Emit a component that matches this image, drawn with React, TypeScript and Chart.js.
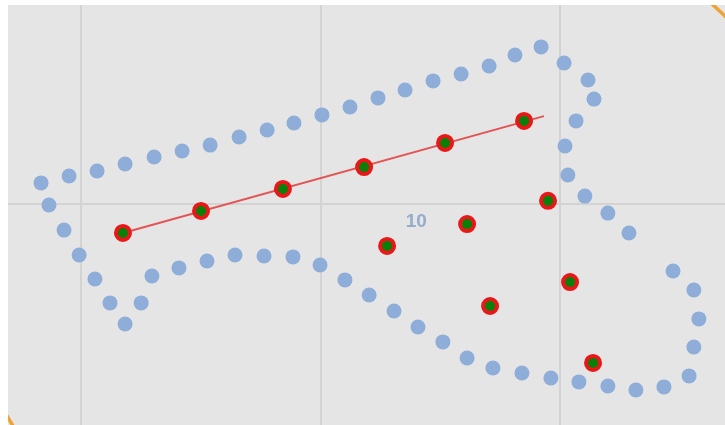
import React, { useEffect, useRef } from "react";
import { Chart, registerables } from "chart.js";

Chart.register(...registerables);

// Grid tick positions (axis units)
const xTicks = [0, 10, 20];
const yTicks = [0];
const xRange = [-3.05, 26.89];
const yRange = [-9.23, 8.31];

// Blue dotted loop
const loopX = [
  -1.67, -0.5, 0.67, 1.84, 3.05, 4.22, 5.39, 6.6, 7.77, 8.89, 10.06, 11.23, 12.4, 13.53, 14.7,
  15.87, 17.04, 18.12, 19.21, 20.17, 21.17, 21.42, 20.67, 20.21, 20.33, 21.04, 22.0, 22.88,
  24.72, 25.59, 25.8, 25.59, 25.39, 24.34, 23.17, 22.0, 20.79, 19.62, 18.41, 17.2, 16.12,
  15.11, 14.07, 13.07, 12.03, 11.02, 9.98, 8.85, 7.64, 6.43, 5.26, 4.09, 2.96, 2.51, 1.84,
  1.21, 0.58, -0.08, -0.71, -1.34,
];
const loopY = [
  0.88, 1.17, 1.38, 1.67, 1.96, 2.21, 2.46, 2.8, 3.09, 3.38, 3.72, 4.05, 4.43, 4.76, 5.14,
  5.43, 5.76, 6.22, 6.56, 5.89, 5.18, 4.38, 3.47, 2.42, 1.21, 0.33, -0.38, -1.21,
  -2.8, -3.59, -4.8, -5.97, -7.18, -7.64, -7.77, -7.6, -7.43, -7.27, -7.06, -6.85, -6.43,
  -5.76, -5.14, -4.47, -3.8, -3.17, -2.55, -2.21, -2.17, -2.13, -2.38, -2.67, -3.01, -4.13, -5.01,
  -4.13, -3.13, -2.13, -1.09, -0.04,
];

// Red / green points
const pointX = [1.75, 5.01, 8.43, 11.82, 15.2, 18.5, 19.5, 16.12, 12.78, 17.08, 20.42, 21.38];
const pointY = [-1.21, -0.29, 0.63, 1.54, 2.55, 3.47, 0.13, -0.84, -1.75, -4.26, -3.26, -6.64];

// Trend line
const lineX = [1.75, 19.33];
const lineY = [-1.21, 3.67];

// Annotation label
const labelText = "10";
const labelX = 14.0;
const labelY = -0.75;

const zip = (xs: number[], ys: number[]) => xs.map((x, i) => ({ x, y: ys[i] }));

const decorPlugin = {
  id: "decor",
  afterDatasetsDraw(chart: any) {
    const { ctx, scales } = chart;
    const w = chart.width;
    const h = chart.height;
    ctx.save();
    ctx.font = 'bold 19px "Liberation Sans", Arial, sans-serif';
    ctx.fillStyle = "#97abcb";
    ctx.textAlign = "center";
    ctx.textBaseline = "middle";
    ctx.fillText(labelText, scales.x.getPixelForValue(labelX), scales.y.getPixelForValue(labelY));
    // orange corner accents
    ctx.strokeStyle = "#eea232";
    ctx.lineWidth = 3.5;
    ctx.lineCap = "round";
    ctx.beginPath();
    ctx.moveTo(w - 13, -1);
    ctx.lineTo(w + 1, 12);
    ctx.stroke();
    ctx.beginPath();
    ctx.moveTo(-1, h - 9);
    ctx.lineTo(5, h + 1);
    ctx.stroke();
    ctx.restore();
  },
};

export default function App() {
  const ref = useRef<HTMLCanvasElement | null>(null);
  useEffect(() => {
    if (!ref.current) return;
    const chart = new Chart(ref.current, {
      type: "scatter",
      data: {
        datasets: [
          {
            data: zip(pointX, pointY),
            pointRadius: 7,
            pointBorderWidth: 4,
            pointBackgroundColor: "#0a7f0a",
            pointBorderColor: "#e81818",
            showLine: false,
          },
          {
            data: zip(lineX, lineY),
            showLine: true,
            pointRadius: 0,
            borderColor: "#e45454",
            borderWidth: 2,
          },
          {
            data: zip(loopX, loopY),
            pointRadius: 7.5,
            pointBorderWidth: 0,
            pointBackgroundColor: "#8eadd8",
            showLine: false,
          },
        ],
      } as any,
      options: {
        animation: false,
        responsive: false,
        layout: { padding: 0, autoPadding: false },
        plugins: { legend: { display: false }, tooltip: { enabled: false } },
        scales: {
          x: {
            type: "linear",
            min: xRange[0],
            max: xRange[1],
            afterBuildTicks: (s: any) => {
              s.ticks = xTicks.map((v) => ({ value: v }));
            },
            ticks: { display: false },
            border: { display: false },
            grid: { color: "#d3d3d3", lineWidth: 2, drawTicks: false },
          },
          y: {
            type: "linear",
            min: yRange[0],
            max: yRange[1],
            afterBuildTicks: (s: any) => {
              s.ticks = yTicks.map((v) => ({ value: v }));
            },
            ticks: { display: false },
            border: { display: false },
            grid: { color: "#d3d3d3", lineWidth: 2, drawTicks: false },
          },
        },
      } as any,
      plugins: [decorPlugin],
    });
    return () => chart.destroy();
  }, []);
  return (
    <div style={{ position: "absolute", left: 8, top: 5, width: 717, height: 420 }}>
      <canvas ref={ref} width={717} height={420} style={{ background: "#e5e5e5", display: "block" }} />
    </div>
  );
}
